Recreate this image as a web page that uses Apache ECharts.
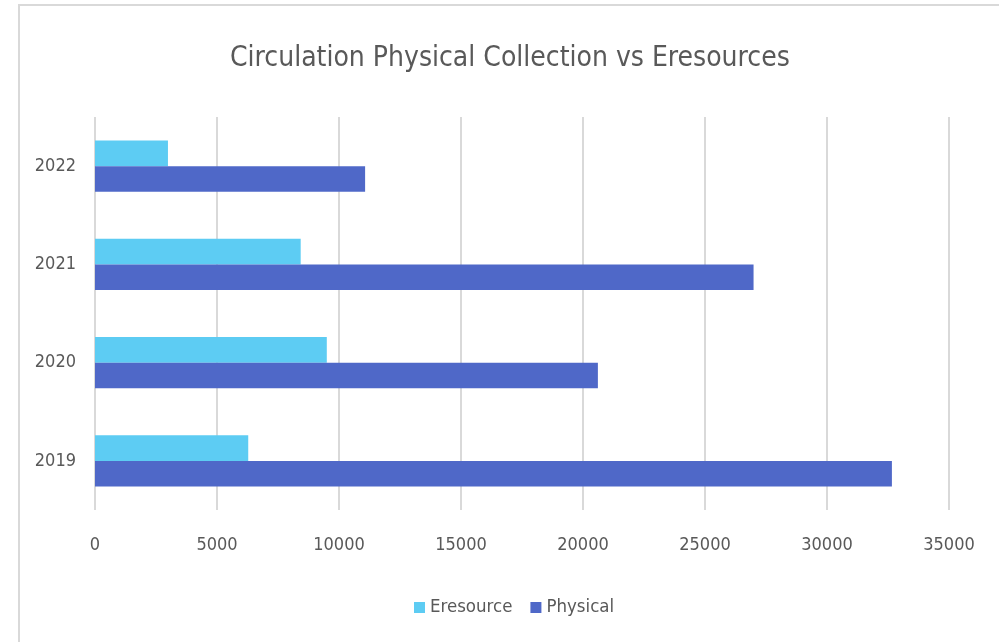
<!DOCTYPE html>
<html>
<head>
<meta charset="utf-8">
<script src="https://cdn.jsdelivr.net/npm/echarts@6/dist/echarts.min.js"></script>
<style>
html,body{margin:0;padding:0;background:#fff;}
#c{width:999px;height:642px;}
</style>
</head>
<body>
<div id="c"></div>
<script>
const categories = ['2019', '2020', '2021', '2022'];
const eresource = [6280, 9500, 8430, 2990];
const physical = [32660, 20610, 26990, 11070];
const xTicks = [0, 5000, 10000, 15000, 20000, 25000, 30000, 35000];

const FONT = '"DejaVu Sans Condensed", "Liberation Sans Narrow", sans-serif';
const chart = echarts.init(document.getElementById('c'));
chart.setOption({
  backgroundColor: '#ffffff',
  animation: false,
  title: {
    text: 'Circulation Physical Collection vs Eresources',
    left: 225,
    top: 40,
    textStyle: { fontFamily: FONT, fontSize: 28, fontWeight: 'normal', color: '#595959' }
  },
  graphic: [{
    type: 'rect',
    shape: { x: 19, y: 5, width: 1200, height: 900 },
    style: { fill: 'none', stroke: '#d9d9d9', lineWidth: 2 },
    silent: true
  }],
  legend: {
    data: ['Eresource', 'Physical'],
    left: 409,
    top: 593,
    itemWidth: 11,
    itemHeight: 11,
    itemGap: 18,
    icon: 'rect',
    textStyle: { fontFamily: FONT, fontSize: 18.5, color: '#595959' }
  },
  grid: { left: 95, right: 50, top: 117, bottom: 132, containLabel: false },
  xAxis: {
    type: 'value',
    min: xTicks[0],
    max: xTicks[xTicks.length - 1],
    interval: 5000,
    axisLine: { show: false },
    axisTick: { show: false },
    splitLine: { show: true, lineStyle: { color: '#d9d9d9', width: 2 } },
    axisLabel: { fontFamily: FONT, fontSize: 18, color: '#595959', margin: 26, formatter: v => String(v) }
  },
  yAxis: {
    type: 'category',
    data: categories,
    axisLine: { show: false },
    axisTick: { show: false },
    axisLabel: { fontFamily: FONT, fontSize: 18, color: '#595959', margin: 19 }
  },
  series: [
    {
      name: 'Eresource', type: 'bar', data: eresource,
      itemStyle: { color: '#5DCCF3' },
      barGap: '0%', barCategoryGap: '48%'
    },
    {
      name: 'Physical', type: 'bar', data: physical,
      itemStyle: { color: '#4F68C8' },
      barGap: '0%', barCategoryGap: '48%'
    }
  ]
});
</script>
</body>
</html>
